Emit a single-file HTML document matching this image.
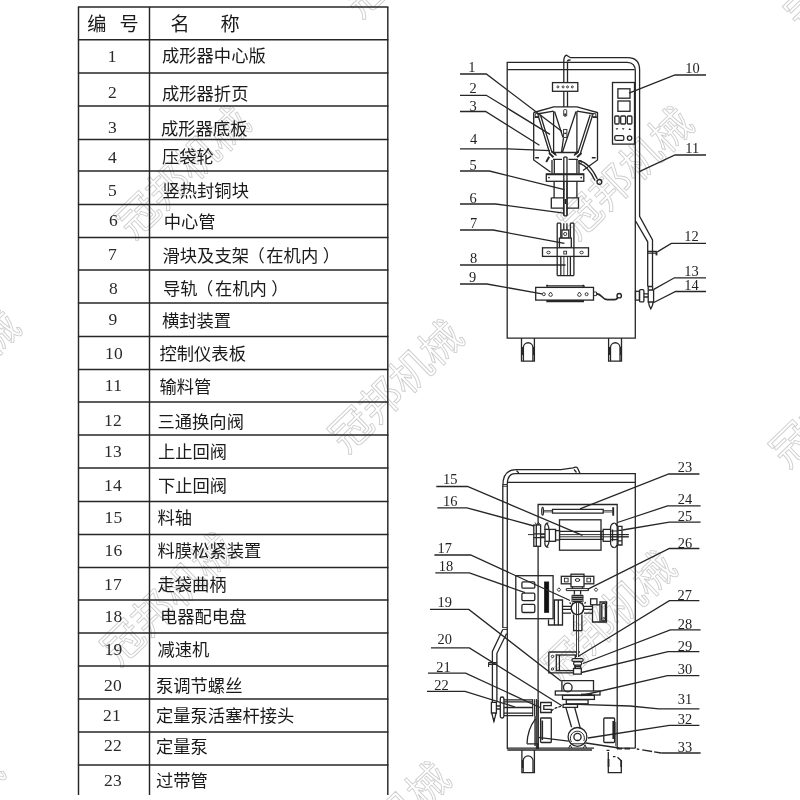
<!DOCTYPE html>
<html lang="zh"><head><meta charset="utf-8"><title>液体包装机结构图</title>
<style>
html,body{margin:0;padding:0;background:#fff;}
body{width:800px;height:800px;position:relative;overflow:hidden;font-family:"Liberation Sans","Noto Sans CJK SC",sans-serif;}
#art{position:absolute;left:0;top:0;width:800px;height:800px;transform:translateZ(0);}
.n{position:absolute;width:40px;height:21px;line-height:21px;text-align:center;font-family:"Liberation Serif",serif;font-size:17.5px;color:#2a2a2a;letter-spacing:0.2px;transform:translateZ(0);}
.t{position:absolute;height:21px;line-height:21px;white-space:nowrap;font-size:17.3px;color:transparent;}
.t.h{font-size:19.2px;letter-spacing:6px;}
#art text{font-family:"Liberation Serif",serif;font-size:14.4px;fill:#222;}
#art #table-text text{font-family:"Liberation Sans","Noto Sans CJK SC",sans-serif;font-size:17.3px;fill:#1a1a1a;}
#art #table-text text.hd{font-size:19.2px;}
#art #watermarks text{font-family:"Liberation Sans","Noto Sans CJK SC",sans-serif;font-size:41.5px;fill:none;stroke:#cecece;stroke-width:0.9px;stroke-linejoin:round;}
</style></head><body>
<svg id="art" role="img" aria-label="液体包装机结构示意图与零件名称表" width="800" height="800" viewBox="0 0 800 800">
<g id="watermarks"><g fill="none" stroke="#cecece" stroke-linejoin="round"><g transform="translate(183 172) rotate(-44)"><text x="-83 -41.5 0 41.5" y="14.9">冠邦机械</text></g><g transform="translate(626 173) rotate(-44)"><text x="-83 -41.5 0 41.5" y="14.9">冠邦机械</text></g><g transform="translate(168 599) rotate(-44)"><text x="-83 -41.5 0 41.5" y="14.9">冠邦机械</text></g><g transform="translate(609 617) rotate(-44)"><text x="-83 -41.5 0 41.5" y="14.9">冠邦机械</text></g><g transform="translate(396 386) rotate(-44)"><text x="-83 -41.5 0 41.5" y="14.9">冠邦机械</text></g><g transform="translate(-47 376) rotate(-44)"><text x="-83 -41.5 0 41.5" y="14.9">冠邦机械</text></g><g transform="translate(837 401) rotate(-44)"><text x="-83 -41.5 0 41.5" y="14.9">冠邦机械</text></g><g transform="translate(410 -49) rotate(-44)"><text x="-83 -41.5 0 41.5" y="14.9">冠邦机械</text></g><g transform="translate(383 828) rotate(-44)"><text x="-83 -41.5 0 41.5" y="14.9">冠邦机械</text></g><g transform="translate(-63 820) rotate(-44)"><text x="-83 -41.5 0 41.5" y="14.9">冠邦机械</text></g><g transform="translate(852 -36) rotate(-44)"><text x="-83 -41.5 0 41.5" y="14.9">冠邦机械</text></g></g></g>
<g id="table-lines"><g stroke="#262626" stroke-width="1.45" fill="none"><line x1="77.9" y1="7.0" x2="388.4" y2="7.0"/><line x1="77.9" y1="39.8" x2="388.4" y2="39.8"/><line x1="77.9" y1="73.0" x2="388.4" y2="73.0"/><line x1="77.9" y1="106.0" x2="388.4" y2="106.0"/><line x1="77.9" y1="139.5" x2="388.4" y2="139.5"/><line x1="77.9" y1="171.0" x2="388.4" y2="171.0"/><line x1="77.9" y1="204.5" x2="388.4" y2="204.5"/><line x1="77.9" y1="237.5" x2="388.4" y2="237.5"/><line x1="77.9" y1="270.0" x2="388.4" y2="270.0"/><line x1="77.9" y1="303.0" x2="388.4" y2="303.0"/><line x1="77.9" y1="336.5" x2="388.4" y2="336.5"/><line x1="77.9" y1="369.5" x2="388.4" y2="369.5"/><line x1="77.9" y1="402.0" x2="388.4" y2="402.0"/><line x1="77.9" y1="435.0" x2="388.4" y2="435.0"/><line x1="77.9" y1="468.0" x2="388.4" y2="468.0"/><line x1="77.9" y1="501.5" x2="388.4" y2="501.5"/><line x1="77.9" y1="534.5" x2="388.4" y2="534.5"/><line x1="77.9" y1="567.5" x2="388.4" y2="567.5"/><line x1="77.9" y1="600.0" x2="388.4" y2="600.0"/><line x1="77.9" y1="633.0" x2="388.4" y2="633.0"/><line x1="77.9" y1="666.0" x2="388.4" y2="666.0"/><line x1="77.9" y1="699.0" x2="388.4" y2="699.0"/><line x1="77.9" y1="732.0" x2="388.4" y2="732.0"/><line x1="77.9" y1="765.0" x2="388.4" y2="765.0"/><line x1="78.5" y1="7.0" x2="78.5" y2="795.0"/><line x1="149.5" y1="7.0" x2="149.5" y2="795.0"/><line x1="387.8" y1="7.0" x2="387.8" y2="795.0"/></g></g>
<g id="table-text"><g fill="#1a1a1a">
<text class="hd" x="87.3 119.5" y="31.15">编号</text>
<text class="hd" x="170.5 220.5" y="31.15">名称</text>
<text x="162.0" y="62.47">成形器中心版</text>
<text x="162.0" y="99.67">成形器折页</text>
<text x="161.0" y="134.67">成形器底板</text>
<text x="162.0" y="163.47">压袋轮</text>
<text x="162.5" y="196.67">竖热封铜块</text>
<text x="163.7" y="227.67">中心管</text>
<text x="162.5 179.8 197.1 214.4 231.7 247.5 266.3 283.6 300.9 322.7" y="261.77">滑块及支架（在机内）</text>
<text x="163.0 180.3 196.1 214.9 232.2 249.5 271.3" y="295.17">导轨（在机内）</text>
<text x="162.0" y="326.67">横封装置</text>
<text x="159.5" y="360.17">控制仪表板</text>
<text x="159.5" y="392.67">输料管</text>
<text x="157.5" y="427.67">三通换向阀</text>
<text x="158.0" y="458.17">上止回阀</text>
<text x="158.0" y="492.17">下止回阀</text>
<text x="157.5" y="524.17">料轴</text>
<text x="157.5" y="557.17">料膜松紧装置</text>
<text x="157.5" y="591.17">走袋曲柄</text>
<text x="160.0" y="623.17">电器配电盘</text>
<text x="157.5" y="656.17">减速机</text>
<text x="156.0" y="692.17">泵调节螺丝</text>
<text x="156.0" y="722.17">定量泵活塞杆接头</text>
<text x="156.0" y="752.67">定量泵</text>
<text x="156.0" y="787.17">过带管</text>
</g></g>
<g id="machine-front"><g fill="none" stroke="#262626" stroke-width="1.3" stroke-linecap="butt" stroke-linejoin="miter">
<!-- cabinet -->
<path d="M507.2 338.1V62.3H627.2Q635.3 62.6 635.3 70.8V338.1Z"/>
<path d="M507.2 69.6H634.8"/>
<!-- feed pipe (11): centre riser, top run, right side down -->
<path d="M563.8 107V61.5Q563.8 56.2 566.5 55.2L570.5 57.7H627.5Q639.6 57.7 639.6 70V216.3L652.5 240V286.5"/>
<path d="M567.5 107V62.3"/>
<path d="M635.3 220.5L647.7 241.8V286.5"/>
<path d="M567.3 61.5Q568 59.5 570.5 60.2" stroke-width="1.6"/>
<!-- dotted plate -->
<rect x="552.5" y="82.6" width="25.3" height="8.7" fill="#fff"/>
<g stroke-width="0.9"><circle cx="557.9" cy="86.9" r="1"/><circle cx="563.1" cy="86.9" r="1"/><circle cx="567.5" cy="86.9" r="1"/><circle cx="572.3" cy="86.9" r="1"/></g>
<!-- former (1,2,3) -->
<path d="M533.7 112.5L553.7 106.9H577L597.5 112.5V160L583 170.5M533.7 112.5V160L550.5 172"/>
<path d="M553.6 111.2V152.5M576.9 111.2V152.5M553.6 152.5H577"/>
<path d="M537 114L553.6 111.2M594 114L576.9 111.2"/>
<path d="M554.6 111.5L563 137.5M576 111.5L562.5 152"/>
<path d="M563.5 138L561.5 152.3"/>
<!-- diagonal rods -->
<path d="M538 115.3L549.8 153.5M540.4 114.7L552 152.6M592.6 115.3L580.4 153.5M590.2 114.7L578 152.6"/>
<path d="M535.3 113.6h3.6v3.2h-3.6zM592.2 113.6h3.6v3.2h-3.6z" stroke-width="0.9"/>
<path d="M534.6 117.2H538.4M593 117.2H597" stroke-width="1.5"/>
<!-- centre slots -->
<rect x="563.7" y="109.6" width="3" height="6.6" rx="0.8" stroke-width="0.9"/>
<path d="M564.2 113.5h2v2.3h-2z" fill="#2b2b2b" stroke="none"/>
<rect x="563.6" y="129.4" width="3.3" height="8" stroke-width="0.9"/>
<path d="M564.2 133.4h2.2" stroke-width="1.4"/>
<!-- small ticks -->
<path d="M535.2 157.8H539M591.8 157.8H595.6" stroke-width="1.5"/>
<!-- pressure wheels (4) -->
<path d="M549 153L553.5 157.2M552 151.5L555.5 154.5M549.2 156.8L546.2 162M581.5 153L577 157.2M578.5 151.5L575 154.5" stroke-width="1.9"/>
<path d="M553 152.5L556.5 155.5M577.5 152.5L574 155.5"/>
<!-- neck / cylinder -->
<path d="M552 160V173.5M554.3 160V173.5M576.9 160V173.5M579 160V173.5M553 159.3H562M568.5 159.3H578"/>
<path d="M563.8 157.5V215.2Q565.4 216.6 567 215.2V157.5Q565.4 156.3 563.8 157.5Z" fill="#fff"/>
<!-- flange -->
<rect x="546.3" y="174" width="37.5" height="7.3" fill="#fff"/>
<path d="M546.3 174.3H583.8" stroke-width="1.8"/>
<g fill="#2b2b2b" stroke="none"><circle cx="549" cy="177.6" r="0.9"/><circle cx="581.2" cy="177.6" r="0.9"/></g>
<path d="M554.1 181.3V197.7M576.9 181.3V197.7"/>
<path d="M563.8 174V215.2M567 174V215.2"/>
<!-- block (5) -->
<path d="M551.3 197.8H563.8M567 197.8H578.5V208.2H567M563.8 208.2H551.3V197.8"/>
<path d="M565.4 199V204" stroke-width="1.5"/>
<!-- hose to right -->
<path d="M579 160.6Q590 163 597.3 179M579 163.2Q588 166 595 180.5" stroke-width="1.3"/>
<circle cx="599.4" cy="181.9" r="2.4" stroke-width="1.3"/>
<path d="M579 160.5h2.2v3h-2.2z" stroke-width="0.9"/>
<!-- guide rails (8) -->
<path d="M557.2 223.2V275.6M560.8 223.2V275.6M570.4 223.2V275.6M573.9 223.2V275.6M557.2 223.2H560.8M570.4 223.2H573.9M557.2 275.6H573.9"/>
<path d="M563.8 223.2V230M566.9 223.2V230"/>
<rect x="561.9" y="230" width="6.9" height="8.1"/>
<circle cx="565.2" cy="234" r="1.6" stroke-width="0.9"/>
<!-- slider (7) -->
<rect x="559.4" y="238.1" width="11.9" height="9.5" fill="#fff"/>
<!-- cross bar -->
<rect x="542.5" y="247.8" width="46" height="8.6" fill="#fff"/>
<path d="M557.2 247.8V256.4M573.9 247.8V256.4"/>
<ellipse cx="548.5" cy="252.5" rx="1.7" ry="1.3" stroke-width="0.9"/>
<ellipse cx="581.6" cy="252.5" rx="1.7" ry="1.3" stroke-width="0.9"/>
<rect x="563.8" y="251.2" width="2.8" height="2.8" stroke-width="0.9"/>
<path d="M563.9 256.4V275.6M567.6 256.4V275.6" stroke-width="0.9"/>
<!-- horizontal sealer (9) -->
<rect x="535.7" y="287.4" width="57.8" height="12.7" fill="#fff"/>
<path d="M546.3 285.8H584V287.4" />
<path d="M546.3 285.6H548M582.5 285.6H584" stroke-width="1.6"/>
<path d="M546.3 301.2H584" stroke-width="2.2"/>
<g stroke-width="0.9"><circle cx="543.8" cy="294.2" r="1.5"/><path d="M548.8 294.6a1.8 1.8 0 1 0 3.6 0L550.6 292Z"/><path d="M577.6 294.6a1.8 1.8 0 1 0 3.6 0L579.4 292Z"/><circle cx="586.6" cy="294.2" r="1.5"/></g>
<!-- cable -->
<path d="M593.5 292h3v3.6h-3z" stroke-width="0.9"/>
<path d="M596.6 293.6Q599.5 294 602 296.8T607.5 299.6H614.5Q617 299.6 617.4 297.6" stroke-width="1.7"/>
<circle cx="619.2" cy="295.7" r="2.2" stroke-width="1.4"/>
<!-- castors -->
<path d="M521.5 338.1V361.1H534.4V338.1M608.6 338.1V361.1H621.5V338.1"/>
<path d="M523.4 361V347.5A4.75 4.75 0 0 1 532.9 347.5V361M610.5 361V347.5A4.75 4.75 0 0 1 620 347.5V361"/>
<path d="M522.2 347V355M609.3 347V355M533.7 347V355M620.8 347V355" stroke-width="1.5"/>
<!-- valve assembly (12,13,14) -->
<path d="M647.7 251.3H656.8M647.7 253.2H656" />
<path d="M656.5 251.5V255.4" stroke-width="1.8"/>
<path d="M647.7 286.5H652.5M648.2 290H653.6V302H648.2ZM648.2 286.5V290M652.6 286.5V290"/>
<path d="M648.6 302L649.2 305.5L650.8 308.8L652.4 305.5L653.2 302"/>
<rect x="635.5" y="291.3" width="4" height="8.8"/>
<rect x="639.5" y="289.7" width="4.4" height="12.2" rx="1.2"/>
<path d="M643.9 293.8H648.2M643.9 297H648.2"/>
<!-- control panel (10) -->
<rect x="612.5" y="82.5" width="22" height="61.6" fill="#fff"/>
<rect x="617.9" y="88.8" width="12.1" height="9.4"/>
<rect x="617.9" y="101" width="12.1" height="10.3"/>
<rect x="614.8" y="116" width="4.3" height="8" rx="1"/><rect x="620.7" y="116" width="4.9" height="8" rx="1"/><rect x="627.3" y="116" width="4.6" height="8" rx="1"/>
<g fill="#2b2b2b" stroke="none"><path d="M615.6 128.3h2.8l-1.4 1.8zM621.8 128.3h2.8l-1.4 1.8zM628.4 129.9h2.8l-1.4-1.8z"/></g>
<rect x="614.8" y="135.7" width="9" height="4.6" rx="1.3"/>
<circle cx="629.6" cy="138.1" r="2.2"/>
<!-- leaders left -->
<path d="M460 74H486.3L562 131.5"/>
<path d="M460 95.3H486.3L550 134.4"/>
<path d="M460 111.5H485.6L539.4 145.3"/>
<path d="M460 148.8H507L550 150.6"/>
<path d="M460 171H489.4L564.4 189.6"/>
<path d="M460 204H495.6L563.8 213.1"/>
<path d="M460 230H493.1L564.4 243.4"/>
<path d="M460 265H565.6"/>
<path d="M460 284H486.9L542 293.8"/>
<!-- leaders right -->
<path d="M629 93.1L675 75H706"/>
<path d="M638.8 171.9L675 155H706"/>
<path d="M657.3 251.9L671.3 243.4H706"/>
<path d="M653.8 289.4L674.4 277.8H706"/>
<path d="M653.8 302.5L675.6 291.5H706"/>
</g>
<g class="lbl" text-anchor="middle">
<text x="471.8" y="72.2">1</text><text x="473.2" y="92.6">2</text><text x="473.2" y="110.6">3</text><text x="473.5" y="144.4">4</text>
<text x="473.2" y="170">5</text><text x="473.2" y="202.8">6</text><text x="473.5" y="227.5">7</text><text x="473.5" y="263.1">8</text><text x="472.6" y="282.3">9</text>
<text x="692.5" y="72.6">10</text><text x="692.3" y="152.5">11</text><text x="691.5" y="240.7">12</text><text x="691.5" y="275.7">13</text><text x="691.5" y="289.7">14</text>
</g>
</g>
<g id="machine-back"><g fill="none" stroke="#262626" stroke-width="1.3" stroke-linecap="butt" stroke-linejoin="miter">
<!-- cabinet -->
<path d="M515 473.6H635.3V748.2"/>
<path d="M508 482.4H635"/>
<path d="M507.3 484.5V749"/>
<path d="M507.3 748.2H594M507.3 750H592M616.5 748.2H635.3"/>
<path d="M617 748.6H630" stroke-width="1.7" stroke-dasharray="5 2.5 7 2"/>
<!-- left pipe with top bend -->
<path d="M502.8 628V486Q502.8 470 515.6 469.6H561L573 467.8Q576.8 466 577.8 468.5L580 473.4"/>
<path d="M507.3 484.5Q507.3 473.8 515 473.6"/>
<path d="M502.8 484.5H507.3M502.8 486.2H507.3" stroke-width="0.9"/>
<path d="M516.5 470.5L518.8 473M574 469.5L576.5 472.5" stroke-width="1.2"/>
<path d="M502.8 627.6H507.3M502.8 629.5H507.3" stroke-width="0.9"/>
<path d="M502.8 629.5L492.4 651.5V702.3M506.6 633.5L496.9 653.3V702.3"/>
<!-- tee on pipe -->
<path d="M488.3 662.6H497M488.3 664.4H497M488.6 662.6V667" stroke-width="1.1"/>
<!-- lower valve -->
<path d="M491.4 702.4H496.4V713H491.4ZM491.8 713L492.6 716.5L493.9 721.3L495.2 716.5L496 713"/>
<path d="M493.9 718V721.5" stroke-width="1.6"/>
<path d="M496.4 706H500.2M496.4 709H500.2"/>
<!-- metering pump (22) -->
<rect x="500.3" y="697" width="3.6" height="21" rx="1.7"/>
<path d="M503.9 699.8H533M503.9 701.9H533M503.9 707.5H533M503.9 713.1H533M503.9 715.6H533"/>
<path d="M532.7 699.3V716.3M534.6 699.3V716.3M536.4 699V749" stroke-width="1.1"/>
<path d="M535.4 716V746" stroke="#555" stroke-width="2.4"/>
<!-- inner frame -->
<path d="M538.1 749V504.5H617.2V748"/>
<path d="M538.1 749V700"/>
<!-- film guide rod (23) -->
<ellipse cx="542.6" cy="511.2" rx="0.9" ry="3.9" stroke-width="1.2"/>
<path d="M543.6 510.6H552.5M543.6 511.9H552.5" stroke-width="0.8"/>
<path d="M552.5 509.4H603.2V513.1H552.5Z"/>
<path d="M603.2 510.6H612.6M603.2 512H612.6" stroke-width="0.8"/>
<path d="M613.2 507.2V515.7" stroke-width="1.9"/>
<!-- film roll (15) -->
<rect x="559.5" y="519.8" width="41.5" height="30.4" fill="#fff"/>
<path d="M528 534.6H628.8M540 536.8H628.8" stroke-width="0.95"/>
<path d="M555.6 531.3H603.2M555.6 539.4H603.2"/>
<!-- left brake / tension (16) -->
<rect x="533.8" y="525" width="6.8" height="21.3" fill="#fff"/>
<path d="M536.3 525V546.3M533.8 533.8H545M533.8 537.6H545" />
<path d="M535 522.5L536.8 524.8L538.5 522.5L540.3 524.8" stroke-width="1"/>
<path d="M548.4 522.8Q544 523 545 530M548.4 547.4Q544 547 545 541M546.5 523.2Q549.6 527 548.6 529.4M546.5 547Q549.6 543 548.6 541.2" stroke-width="1.2"/>
<rect x="545" y="529.4" width="10.6" height="11.9" fill="#fff"/>
<path d="M549.3 529.4V541.3"/>
<rect x="555.6" y="530.6" width="3.9" height="9.4" fill="#fff"/>
<!-- right hub (24,25) -->
<rect x="603.2" y="529.4" width="7.4" height="11.9" fill="#fff"/>
<path d="M601 530.8V540"/>
<path d="M610.6 529.4Q610 523.4 614.6 523.2M610.6 541.3Q610 547.4 614.6 547.6M612.6 529.4V541.3M610.6 531H617M610.6 539.6H617" stroke-width="1.2"/>
<path d="M614.6 523.2Q616.4 523.6 616.9 526M614.6 547.6Q616.4 547.2 616.9 545"/>
<path d="M618 526.3H622V545H618ZM618 530.4H622M618 540.8H622"/>
<path d="M603.2 534.6H628.8M603.2 536.8H628.8" stroke-width="0.95"/>
<!-- electrical panel (18) -->
<rect x="515.8" y="575.7" width="37.3" height="43" fill="#fff"/>
<path d="M538.1 575.7V618.7"/>
<rect x="521.9" y="581.9" width="12.9" height="6.3" rx="1.3"/>
<rect x="521.9" y="593.1" width="12.9" height="7.5" rx="1.3"/>
<rect x="521.9" y="604.4" width="12.9" height="8.1" rx="1.3"/>
<rect x="544.4" y="581.9" width="4.4" height="30.6" fill="#111" stroke="#111" stroke-width="0.6"/>
<!-- left motor block -->
<path d="M548.5 619.4V625H554.4M554.4 600H562.5V625H554.4ZM558.3 600V625"/>
<path d="M562.5 606.3H571M562.5 609.4H571M562.5 613.1H571"/>
<!-- crank mechanism (17,26) -->
<rect x="561.3" y="576.3" width="32.5" height="7.5" fill="#fff"/>
<rect x="564.4" y="578.2" width="3.7" height="3.7" stroke-width="0.9"/>
<rect x="586.9" y="578.2" width="3.7" height="3.7" stroke-width="0.9"/>
<rect x="571" y="574.2" width="13" height="12.6" fill="#fff"/>
<path d="M571 576.3H584M572.5 586.8V588.5M582.5 586.8V588.5"/>
<ellipse cx="577.5" cy="580" rx="2.3" ry="1.4" stroke-width="1"/>
<path d="M566.3 588.6H588.5V590.6H566.3Z" stroke-width="1"/>
<path d="M574.4 590.6V594.6M580.6 590.6V594.6"/>
<path d="M572.2 595.6H582.9M571.9 597.6H583.2M572.2 599.6H582.9M572.6 601.6H582.5" stroke-width="1.5"/>
<path d="M572 595V602M583 595V602" stroke-width="0.9"/>
<circle cx="577.5" cy="608.3" r="6.3" fill="#fff"/>
<path d="M573 602.5Q569.5 608.5 573.5 614M582 602.5Q585.5 608.5 581.5 614" stroke-width="1.1"/>
<path d="M573.6 614.5V630.6H581.9V614.5"/>
<path d="M576.5 603V657M578.6 603V657" stroke-width="0.9"/>
<path d="M557.2 589.7l1.7-1.9 1.7 1.9-1.7 1.9zM594.3 589.7l1.7-1.9 1.7 1.9-1.7 1.9z" stroke-width="0.9"/>
<path d="M569.6 602.3l1.2 1.5M585.6 602l-1 1.6" stroke-width="1.3"/>
<!-- right motor block -->
<rect x="590.6" y="598.8" width="6.3" height="6" />
<path d="M592.5 604.8V622H600M600 602H606.5V622H600ZM600 604.8H596.9"/>
<rect x="601.8" y="603.4" width="3.6" height="17.6" rx="0.8" stroke-width="1.4"/>
<circle cx="603.7" cy="618.3" r="0.9" stroke-width="0.8"/>
<path d="M584 606.3H592.5M584 609.4H592.5M584 613.1H592.5"/>
<!-- swing bracket (27,28,29) -->
<path d="M548.8 652H576.4M548.8 652V672.8H573.4M578.7 652H580"/>
<rect x="556.3" y="655" width="19" height="15.6"/>
<path d="M559.4 655V670.6"/>
<circle cx="552.5" cy="656.4" r="1.2" stroke-width="0.9"/><circle cx="552.5" cy="669" r="1.2" stroke-width="0.9"/>
<rect x="571.9" y="658.6" width="11.3" height="2.8" rx="1.4" fill="#fff" stroke-width="1.2"/>
<rect x="573.6" y="661.9" width="8" height="3.2" rx="1.4" fill="#fff" stroke-width="1.2"/>
<path d="M575 665.2V668.5M580.6 665.2V668.5"/>
<path d="M574.5 666.5H581" stroke-width="1.6"/>
<rect x="573.5" y="668.5" width="7.8" height="5.6" fill="#fff"/>
<!-- gear reducer (19) and stack (30,31) -->
<path d="M561.9 691V680.7H593.5V691"/>
<circle cx="567.8" cy="687.5" r="4.3"/>
<rect x="555.3" y="691" width="44.7" height="4"/>
<path d="M581 694.4H592" stroke-width="1.6"/>
<rect x="562.5" y="695.4" width="31.9" height="4"/>
<rect x="566.3" y="699.8" width="21.8" height="4"/>
<rect x="563.1" y="704.4" width="14.4" height="3"/>
<!-- fork (21) -->
<path d="M540.6 702.5H551.3V705.6H543.8V709.4H551.3V712.5H540.6Z" fill="#fff"/>
<path d="M551.3 711Q554.5 708 561 706.3" stroke-dasharray="3 1.2"/>
<!-- crank arm + eccentric (32) -->
<path d="M566 708L571.6 727.2M574.8 708L580.4 728.6"/>
<circle cx="577.5" cy="736.9" r="9.4"/>
<path d="M571.5 742A7 7 0 1 1 583.8 741" stroke-width="1"/>
<circle cx="577.5" cy="736.9" r="3.6"/>
<path d="M568.6 748.2l1.6-3.2 1.8 3.2M583.2 748.2l1.8-3.2 1.6 3.2" stroke-width="1"/>
<path d="M570 743.8H586" stroke-width="1"/>
<!-- lower blocks -->
<rect x="540.6" y="718" width="10.7" height="24.5" rx="0.8"/>
<path d="M542.3 720.5V740" stroke-width="1.6"/>
<rect x="603.8" y="718" width="10.8" height="24.5" rx="1"/>
<path d="M613.3 721V739" stroke-width="1.8"/>
<path d="M615.8 722V746" stroke="#555" stroke-width="1.2"/>
<path d="M535.5 718.8Q527.5 729 527 743.8"/>
<path d="M527 743.8H537.6V748"/>
<path d="M538.2 737.3L568.5 741.2"/>
<!-- castors -->
<path d="M521.9 750V772.6H534.4V750"/>
<path d="M523.2 772.5V760.8A4.9 4.9 0 0 1 533 760.8V772.5"/>
<path d="M522.5 760V768" stroke-width="1.5"/>
<path d="M608.3 752V772.6H621.3V760" />
<path d="M606.5 750.3H609.5M613 756.6H615.5M617.5 757.3L621 760.5" stroke-width="1.3"/>
<path d="M608.6 759V767M621.2 760V767" stroke-width="1.7"/>
<!-- leaders left -->
<path d="M436.3 486.5H467.5L582.5 535.4"/>
<path d="M437.3 507.8H466.9L534 526"/>
<path d="M434.4 555H470.6L570 600.5"/>
<path d="M435.3 572.9H469.4L525 592.6"/>
<path d="M430 609.4H468.8L561 681"/>
<path d="M431 647.9H469.4L562 705.7"/>
<path d="M428 673.1H465.6L540 707.5"/>
<path d="M427 691.3H465L515 707"/>
<!-- leaders right -->
<path d="M580 508.8L668.8 474H699.4"/>
<path d="M617.5 522.5L667.5 505.9H700.6"/>
<path d="M622.5 530L669.4 522.1H700.6"/>
<path d="M587.5 589.4L669.4 548.5H699.4"/>
<path d="M578 656.5L669.4 600.6H699.4"/>
<path d="M583 663.5L670.3 629.8H700.6"/>
<path d="M581.5 672.5L668 651.6H699.4"/>
<path d="M581.3 695.5L667.5 675.6H699.4"/>
<path d="M577.5 704.4L630 706L658.8 708.8H699.4"/>
<path d="M588 738L669.4 725.3H699.4"/>
<path d="M586 743L618.8 748"/>
<path d="M636.8 749L661.3 753" stroke-dasharray="2.5 3 10 2 20 0"/>
<path d="M661.3 753H700.6"/>
</g>
<g class="lbl" text-anchor="middle">
<text x="450.2" y="483.8">15</text><text x="450.2" y="506.3">16</text><text x="444.8" y="553.2">17</text><text x="446" y="571.3">18</text>
<text x="444.7" y="606.5">19</text><text x="444.7" y="643.6">20</text><text x="443.5" y="671.5">21</text><text x="441.5" y="689.8">22</text>
<text x="685" y="472.3">23</text><text x="685" y="503.8">24</text><text x="685" y="520.7">25</text><text x="685" y="547.8">26</text>
<text x="684.7" y="600">27</text><text x="685" y="628.8">28</text><text x="685" y="651">29</text><text x="685" y="673.8">30</text>
<text x="685" y="703.5">31</text><text x="685" y="724">32</text><text x="685" y="751.6">33</text>
</g>
</g>
</svg>
<div class="n" style="left:92.3px;top:45.8px" title="成形器中心版">1</div><div class="n" style="left:92.5px;top:82.0px" title="成形器折页">2</div><div class="n" style="left:92.5px;top:117.0px" title="成形器底板">3</div><div class="n" style="left:92.5px;top:146.5px" title="压袋轮">4</div><div class="n" style="left:92.5px;top:179.5px" title="竖热封铜块">5</div><div class="n" style="left:93.5px;top:210.0px" title="中心管">6</div><div class="n" style="left:92.5px;top:243.5px" title="滑块及支架(在机内)">7</div><div class="n" style="left:93.5px;top:277.5px" title="导轨(在机内)">8</div><div class="n" style="left:93.0px;top:309.0px" title="横封装置">9</div><div class="n" style="left:94.0px;top:342.5px" title="控制仪表板">10</div><div class="n" style="left:93.5px;top:375.0px" title="输料管">11</div><div class="n" style="left:93.0px;top:410.0px" title="三通换向阀">12</div><div class="n" style="left:93.0px;top:440.5px" title="上止回阀">13</div><div class="n" style="left:93.0px;top:474.5px" title="下止回阀">14</div><div class="n" style="left:93.5px;top:506.5px" title="料轴">15</div><div class="n" style="left:93.5px;top:539.5px" title="料膜松紧装置">16</div><div class="n" style="left:93.0px;top:573.5px" title="走袋曲柄">17</div><div class="n" style="left:93.5px;top:605.5px" title="电器配电盘">18</div><div class="n" style="left:93.5px;top:638.5px" title="减速机">19</div><div class="n" style="left:93.0px;top:674.5px" title="泵调节螺丝">20</div><div class="n" style="left:92.0px;top:704.5px" title="定量泵活塞杆接头">21</div><div class="n" style="left:93.0px;top:735.0px" title="定量泵">22</div><div class="n" style="left:93.0px;top:769.5px" title="过带管">23</div>
<div class="t" style="left:162.0px;top:44.8px">成形器中心版</div><div class="t" style="left:162.0px;top:82.0px">成形器折页</div><div class="t" style="left:161.0px;top:117.0px">成形器底板</div><div class="t" style="left:162.0px;top:145.8px">压袋轮</div><div class="t" style="left:162.5px;top:179.0px">竖热封铜块</div><div class="t" style="left:163.7px;top:210.0px">中心管</div><div class="t" style="left:162.5px;top:244.1px">滑块及支架（在机内）</div><div class="t" style="left:163.0px;top:277.5px">导轨（在机内）</div><div class="t" style="left:162.0px;top:309.0px">横封装置</div><div class="t" style="left:159.5px;top:342.5px">控制仪表板</div><div class="t" style="left:159.5px;top:375.0px">输料管</div><div class="t" style="left:157.5px;top:410.0px">三通换向阀</div><div class="t" style="left:158.0px;top:440.5px">上止回阀</div><div class="t" style="left:158.0px;top:474.5px">下止回阀</div><div class="t" style="left:157.5px;top:506.5px">料轴</div><div class="t" style="left:157.5px;top:539.5px">料膜松紧装置</div><div class="t" style="left:157.5px;top:573.5px">走袋曲柄</div><div class="t" style="left:160.0px;top:605.5px">电器配电盘</div><div class="t" style="left:157.5px;top:638.5px">减速机</div><div class="t" style="left:156.0px;top:674.5px">泵调节螺丝</div><div class="t" style="left:156.0px;top:704.5px">定量泵活塞杆接头</div><div class="t" style="left:156.0px;top:735.0px">定量泵</div><div class="t" style="left:156.0px;top:769.5px">过带管</div><div class="t h" style="left:87.3px;top:12px">编 号</div><div class="t h" style="left:170.5px;top:12px">名 称</div>
</body></html>
